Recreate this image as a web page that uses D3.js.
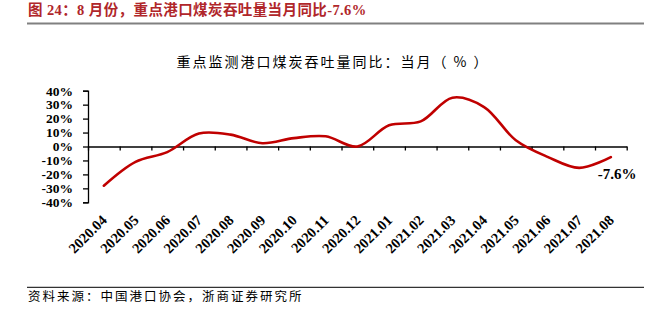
<!DOCTYPE html>
<html>
<head>
<meta charset="utf-8">
<script src="https://cdn.jsdelivr.net/npm/d3@7/dist/d3.min.js"></script>
<style>
  html, body { margin: 0; padding: 0; background: #fff; }
  svg { display: block; }
</style>
</head>
<body>
<svg id="chart" width="662" height="324"></svg>
<script>
const figureTitle = "图 24：8 月份，重点港口煤炭吞吐量当月同比-7.6%";
const chartTitle = "重点监测港口煤炭吞吐量同比：当月（ % ）";
const sourceText = "资料来源：中国港口协会，浙商证券研究所";
const categories = ["2020.04","2020.05","2020.06","2020.07","2020.08","2020.09","2020.10","2020.11","2020.12","2021.01","2021.02","2021.03","2021.04","2021.05","2021.06","2021.07","2021.08"];
const values = [-28.1, -11.0, -4.0, 9.3, 8.5, 2.3, 6.0, 7.3, 0.0, 15.2, 18.0, 35.0, 28.3, 4.5, -7.4, -15.3, -7.6];
const yTicks = [-40, -30, -20, -10, 0, 10, 20, 30, 40];
const lastLabel = "-7.6%";

const svg = d3.select("#chart");
const serif = "'Liberation Serif', 'Times New Roman', 'Noto Sans CJK SC', serif";
const cjk = "'Noto Sans CJK SC', 'Liberation Serif', sans-serif";

// Figure header
svg.append("text")
  .attr("x", 28).attr("y", 15)
  .attr("fill", "#B0262A")
  .attr("font-family", serif)
  .attr("font-weight", "bold")
  .attr("font-size", 14.5)
  .attr("letter-spacing", 0.4)
  .text(figureTitle);
svg.append("line")
  .attr("x1", 27).attr("x2", 644).attr("y1", 23.5).attr("y2", 23.5)
  .attr("stroke", "#808080").attr("stroke-width", 2);

// Chart title
svg.append("text")
  .attr("x", 333).attr("y", 66.5)
  .attr("text-anchor", "middle")
  .attr("font-family", cjk)
  .attr("font-size", 14)
  .attr("letter-spacing", 2)
  .attr("fill", "#000")
  .text(chartTitle);

// Scales
const x = d3.scaleBand().domain(categories).range([88, 626.7]).padding(0);
const xIdx = d3.scaleLinear().domain([0, categories.length]).range([88, 626.7]);
const y = d3.scaleLinear().domain([-40, 40]).range([202.3, 90.7]);

// Y axis
const yAxis = d3.axisLeft(y).tickValues(yTicks).tickFormat(d => d + "%").tickSize(5).tickPadding(10);
const gy = svg.append("g").attr("transform", "translate(88,0)").call(yAxis);
gy.selectAll("path, line").attr("stroke", "#000").attr("stroke-width", 1.3);
gy.selectAll("text")
  .attr("font-family", serif)
  .attr("font-weight", "bold")
  .attr("font-size", 13.5)
  .attr("fill", "#000");

// X axis at zero
const xAxis = d3.axisBottom(xIdx).tickValues(d3.range(0, categories.length + 1)).tickFormat("").tickSize(4).tickSizeOuter(0);
const gx = svg.append("g").attr("transform", `translate(0,${y(0)})`).call(xAxis);
gx.selectAll("path, line").attr("stroke", "#000").attr("stroke-width", 1.3);

// X labels
svg.append("g").selectAll("text")
  .data(categories)
  .join("text")
  .attr("transform", d => `translate(${x(d) + x.bandwidth() / 2 + 4},221) rotate(-45)`)
  .attr("text-anchor", "end")
  .attr("font-family", serif)
  .attr("font-weight", "bold")
  .attr("font-size", 14.5)
  .attr("fill", "#000")
  .text(d => d);

// Line
const line = d3.line()
  .x((d, i) => x(categories[i]) + x.bandwidth() / 2)
  .y(d => y(d))
  .curve(d3.curveCatmullRom.alpha(0.5));
svg.append("path")
  .datum(values)
  .attr("d", line)
  .attr("fill", "none")
  .attr("stroke", "#C00000")
  .attr("stroke-width", 2.6)
  .attr("stroke-linecap", "round");

// Last value label
const lastI = values.length - 1;
svg.append("text")
  .attr("x", x(categories[lastI]) + x.bandwidth() / 2 - 13)
  .attr("y", y(values[lastI]) + 22)
  .attr("font-family", serif)
  .attr("font-weight", "bold")
  .attr("font-size", 15)
  .attr("fill", "#000")
  .text(lastLabel);

// Footer
svg.append("line")
  .attr("x1", 27).attr("x2", 644).attr("y1", 287.3).attr("y2", 287.3)
  .attr("stroke", "#333").attr("stroke-width", 1.2);
svg.append("text")
  .attr("x", 28).attr("y", 301)
  .attr("font-family", cjk)
  .attr("font-size", 12.5)
  .attr("letter-spacing", 2)
  .attr("fill", "#000")
  .text(sourceText);
</script>
</body>
</html>
